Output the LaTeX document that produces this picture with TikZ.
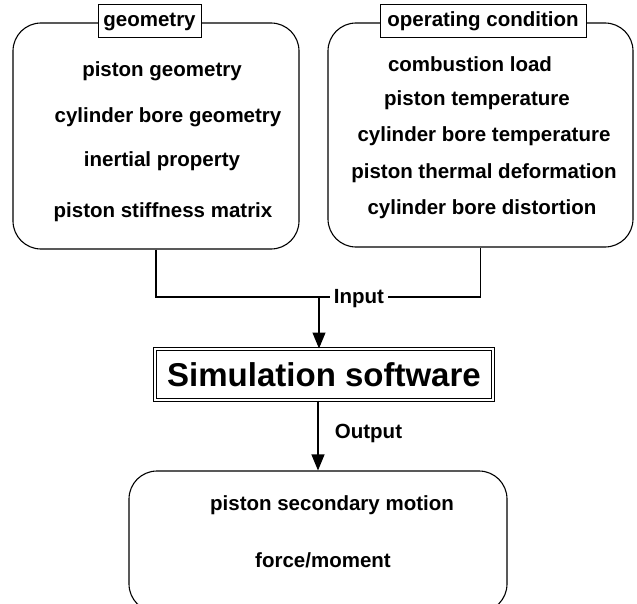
\documentclass[tikz,border=0pt]{standalone}
\usepackage{fontspec}
\setmainfont{Liberation Sans}
\usetikzlibrary{arrows.meta}
\begin{document}
\begin{tikzpicture}[x=1pt,y=-1pt,
  every node/.style={font=\fontsize{20.5}{24}\selectfont\bfseries},
  group/.style={draw, line width=1.1pt, rounded corners=28pt, minimum width=#1},
  tag/.style={draw, fill=white, line width=1pt, inner sep=3pt, minimum height=33pt},
  item/.style={inner sep=0pt},
  lbl/.style={fill=white, inner sep=4pt},
  link/.style={line width=1.1pt},
  flow/.style={line width=1.1pt, -{Triangle[width=13pt,length=16pt]}}
]
\clip (0,0) rectangle (637,604);
\fill[white] (0,0) rectangle (637,604);

% input groups
\node[group=286pt, minimum height=226pt] (gbox) at (156,136) {};
\node[group=305pt, minimum height=224pt] (obox) at (480.5,135) {};
\node[tag, minimum width=103pt] (gtag) at (149.5,21.5) {geometry};
\node[tag, minimum width=206pt] (otag) at (483,21.5) {operating condition};

\node[item] (g1) at (162,71) {piston geometry};
\node[item] (g2) at (168,117) {cylinder bore geometry};
\node[item] (g3) at (162,161) {inertial property};
\node[item] (g4) at (163,212) {piston stiffness matrix};

\node[item] (o1) at (470,64) {combustion load};
\node[item] (o2) at (477,100) {piston temperature};
\node[item] (o3) at (484,136) {cylinder bore temperature};
\node[item] (o4) at (484,173) {piston thermal deformation};
\node[item] (o5) at (482,209) {cylinder bore distortion};

% simulation block
\node[draw, double, double distance=2pt, line width=1pt, minimum width=338pt, minimum height=51pt,
      inner sep=0pt, font=\fontsize{33}{40}\selectfont\bfseries] (sim) at (324,374.5) {Simulation software};

% output group
\node[group=378pt, minimum height=141pt] (res) at (318,541.5) {};
\node[item] (r1) at (332,505) {piston secondary motion};
\node[item] (r2) at (323,560) {force/moment};

% connectors
\coordinate (join) at (319,297);
\draw[link] (gbox.south) |- (join) -| (obox.south);
\node[lbl] (inp) at (359,299) {Input};
\draw[flow] (join) -- (join |- sim.north);
\draw[flow] (res.north |- sim.south) -- (res.north);
\node[item] (outp) at (368.5,433) {Output};
\end{tikzpicture}
\end{document}
